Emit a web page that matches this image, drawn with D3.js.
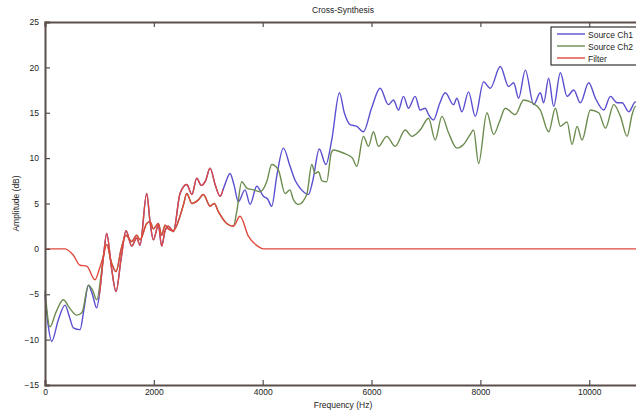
<!DOCTYPE html>
<html>
<head>
<meta charset="utf-8">
<script src="https://cdn.jsdelivr.net/npm/d3@7"></script>
<style>
    body { margin: 0; background: #fff; }
    text { font-family: "Liberation Sans", Arial, sans-serif; fill: #222; }
</style>
</head>
<body>
<script>
// values: [frequency Hz, amplitude dB]
var ch1Points = [
    [0,-5.1],[60,-8.5],[123,-10.2],[245,-7.8],[368,-6.2],[450,-7.5],[521,-8.7],[643,-8.9],
    [720,-6.5],[797,-4.0],[870,-5.0],[950,-6.5],[1010,-4.5],[1072,-1.0],[1134,1.7],[1220,-2.0],
    [1305,-4.7],[1400,-1.0],[1489,2.0],[1593,0.3],[1685,1.2],[1746,0.4],[1869,6.1],[1930,3.0],
    [1991,1.0],[2083,2.6],[2144,0.3],[2206,2.0],[2267,2.5],[2359,1.9],[2481,6.1],[2604,7.1],
    [2700,6.0],[2788,7.8],[2870,7.0],[2950,7.5],[3033,8.9],[3130,7.0],[3217,5.8],[3300,7.0],
    [3400,8.3],[3475,7.0],[3553,5.2],[3676,6.5],[3768,4.9],[3891,6.9],[4013,5.8],[4090,5.5],
    [4166,4.7],[4258,8.0],[4380,11.1],[4503,9.1],[4600,7.5],[4687,6.7],[4840,6.0],[4920,7.5],
    [5040,11.0],[5160,9.3],[5269,12.0],[5410,17.2],[5500,15.0],[5606,13.7],[5729,13.5],[5851,12.9],
    [6000,15.5],[6158,17.7],[6311,15.9],[6403,16.4],[6495,15.3],[6587,16.8],[6679,15.5],[6802,16.8],
    [6894,15.3],[6986,15.5],[7048,14.8],[7140,14.2],[7250,16.0],[7354,17.2],[7507,15.9],[7568,16.6],
    [7660,15.1],[7783,17.3],[7906,14.6],[8059,18.4],[8182,17.7],[8366,20.1],[8519,17.9],[8611,18.3],
    [8703,16.6],[8826,19.7],[8979,15.9],[9102,17.2],[9163,16.1],[9255,18.8],[9347,15.7],[9470,19.4],
    [9593,16.8],[9715,17.5],[9838,16.1],[9991,18.3],[10114,16.6],[10267,15.3],[10390,16.8],[10512,16.1],
    [10604,16.1],[10727,15.1],[10849,16.2],[11025,15.5]
];

var ch2Points = [
    [0,-4.6],[92,-8.6],[200,-7.0],[337,-5.6],[450,-6.5],[582,-7.3],[680,-7.0],[797,-4.0],
    [870,-4.5],[950,-5.6],[1042,-2.3],[1072,-0.8],[1134,0.5],[1220,-1.5],[1305,-2.5],[1400,0.0],
    [1489,1.5],[1593,0.8],[1685,1.5],[1746,1.0],[1869,2.8],[1930,3.0],[1991,2.2],[2083,2.8],
    [2144,1.5],[2206,2.6],[2267,2.2],[2359,2.0],[2481,3.6],[2550,5.0],[2604,6.1],[2700,5.0],
    [2818,5.4],[2910,6.0],[3033,4.7],[3110,5.0],[3186,4.1],[3339,2.8],[3462,2.5],[3523,4.1],
    [3615,7.4],[3707,6.7],[3830,6.5],[3950,6.3],[4074,7.4],[4166,9.3],[4288,8.7],[4411,6.1],
    [4500,6.5],[4560,5.5],[4656,4.9],[4810,6.0],[4902,9.3],[4963,8.3],[5024,8.5],[5090,7.5],
    [5177,7.4],[5257,10.5],[5300,10.9],[5422,10.7],[5545,10.4],[5650,10.0],[5729,9.1],[5851,12.4],
    [5943,11.3],[6035,12.9],[6127,11.3],[6280,12.4],[6434,11.3],[6618,13.1],[6740,12.4],[6894,13.1],
    [7048,14.4],[7170,12.0],[7293,14.6],[7415,12.8],[7568,11.1],[7690,11.5],[7813,12.6],[7875,13.1],
    [7967,9.4],[8120,15.0],[8243,12.6],[8350,14.0],[8458,15.5],[8642,14.8],[8795,16.4],[8948,16.1],
    [9102,15.3],[9255,12.9],[9378,15.5],[9470,13.5],[9593,14.0],[9684,11.5],[9777,13.5],[9868,12.0],
    [10022,15.3],[10175,15.0],[10298,13.3],[10451,15.9],[10574,14.6],[10696,12.4],[10788,14.8],[10849,15.7],
    [11025,15.0]
];

var filterPoints = [
    [0,0],[370,0],[521,-0.7],[643,-1.8],[766,-1.9],[919,-3.4],[1000,-2.2],[1072,-0.8],
    [1134,0.5],[1220,-1.5],[1305,-2.5],[1400,0.0],[1489,1.5],[1593,0.8],[1685,1.5],[1746,1.0],
    [1869,2.8],[1930,3.0],[1991,2.2],[2083,2.8],[2144,1.5],[2206,2.6],[2267,2.2],[2359,2.0],
    [2481,3.6],[2550,5.0],[2604,6.1],[2700,5.0],[2818,5.4],[2910,6.0],[3033,4.7],[3110,5.0],
    [3186,4.1],[3339,2.8],[3462,2.5],[3584,3.6],[3737,1.4],[3921,0.25],[4013,0],[11025,0]
];

// band where the source Ch1 trace shows through the filter (drawn red)
var passBand = [1000, 3270];

var xTicks = [0, 2000, 4000, 6000, 8000, 10000];
var yTicks = [-15, -10, -5, 0, 5, 10, 15, 20, 25];
var seriesNames = ["Source Ch1", "Source Ch2", "Filter"];
var seriesColors = ["#5a4fcf", "#6d8c4f", "#e0483e"];

var width = 636, height = 410;
var margins = {top: 22, left: 45, right: -9, bottom: 25};

var svg = d3.select("body").append("svg")
    .attr("width", width)
    .attr("height", height);

var x = d3.scaleLinear().domain([0, 11025]).range([margins.left, width - margins.right]);
var y = d3.scaleLinear().domain([-15, 25]).range([height - margins.bottom, margins.top]);

var line = d3.line()
    .x(function(d){ return x(d[0]); })
    .y(function(d){ return y(d[1]); })
    .curve(d3.curveMonotoneX);

var defs = svg.append("defs");
defs.append("clipPath").attr("id", "band")
    .append("rect")
    .attr("x", x(passBand[0]))
    .attr("y", margins.top)
    .attr("width", x(passBand[1]) - x(passBand[0]))
    .attr("height", y(-15) - y(25));

var body = svg.append("g").attr("class", "body");

body.append("path").datum(ch1Points)
    .attr("d", line).attr("fill", "none")
    .attr("stroke", seriesColors[0]).attr("stroke-width", 1.4);

body.append("path").datum(ch2Points)
    .attr("d", line).attr("fill", "none")
    .attr("stroke", seriesColors[1]).attr("stroke-width", 1.4);

body.append("path").datum(filterPoints)
    .attr("d", line).attr("fill", "none")
    .attr("stroke", seriesColors[2]).attr("stroke-width", 1.4);

body.append("path").datum(ch1Points)
    .attr("d", line).attr("fill", "none")
    .attr("clip-path", "url(#band)")
    .attr("stroke", seriesColors[2]).attr("stroke-width", 1.4);

// axes, matlab style box with inward ticks
var axisColor = "#5a4f4a";

var bottomAxis = svg.append("g")
    .attr("transform", "translate(0," + y(-15) + ")")
    .call(d3.axisBottom(x).tickValues(xTicks).tickSize(-5).tickPadding(4).tickFormat(d3.format("d")));

var topAxis = svg.append("g")
    .attr("transform", "translate(0," + y(25) + ")")
    .call(d3.axisTop(x).tickValues(xTicks).tickSize(-5).tickFormat(""));

var leftAxis = svg.append("g")
    .attr("transform", "translate(" + x(0) + ",0)")
    .call(d3.axisLeft(y).tickValues(yTicks).tickSize(-5).tickPadding(6).tickFormat(d3.format("d")));

[bottomAxis, topAxis, leftAxis].forEach(function(g){
    g.select(".domain").attr("stroke", axisColor).attr("stroke-width", 2);
    g.selectAll(".tick line").attr("stroke", axisColor).attr("stroke-width", 1.2);
    g.selectAll(".tick text").attr("font-size", 8.5).attr("fill", "#222")
        .attr("font-family", "'Liberation Sans', Arial, sans-serif");
});

// title and labels
svg.append("text")
    .attr("x", 343).attr("y", 13)
    .attr("text-anchor", "middle").attr("font-size", 8.5)
    .text("Cross-Synthesis");

svg.append("text")
    .attr("x", 343).attr("y", 408)
    .attr("text-anchor", "middle").attr("font-size", 8.5)
    .text("Frequency (Hz)");

svg.append("text")
    .attr("transform", "translate(19," + ((y(25) + y(-15)) / 2) + ") rotate(-90)")
    .attr("text-anchor", "middle").attr("font-size", 8.5)
    .text("Amplitude (dB)");

// legend
var legend = svg.append("g").attr("transform", "translate(551,27)");
legend.append("rect")
    .attr("width", 100).attr("height", 38)
    .attr("fill", "#fff").attr("stroke", "#333").attr("stroke-width", 1.2);

seriesNames.forEach(function(name, i){
    var row = legend.append("g").attr("transform", "translate(0," + (7 + i * 12) + ")");
    row.append("line")
        .attr("x1", 6).attr("x2", 34)
        .attr("stroke", seriesColors[i]).attr("stroke-width", 1.4);
    row.append("text")
        .attr("x", 37).attr("y", 3.5)
        .attr("font-size", 8.5)
        .text(name);
});
</script>
</body>
</html>
